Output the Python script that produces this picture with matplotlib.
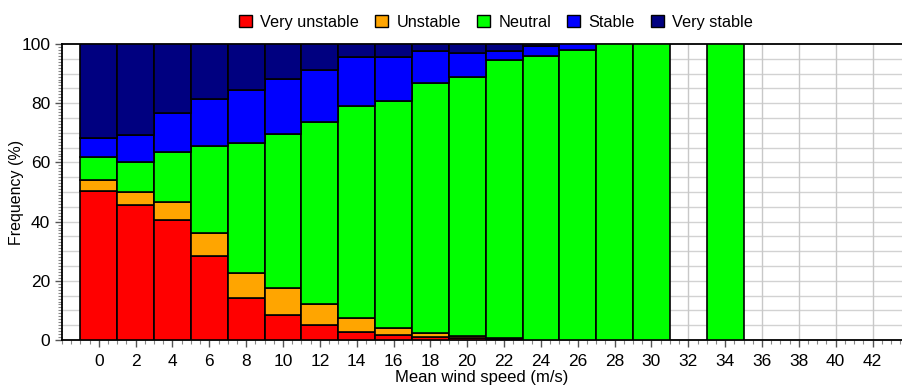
import numpy as np
import matplotlib
matplotlib.use("Agg")
import matplotlib.pyplot as plt
from matplotlib.ticker import MultipleLocator, FixedLocator

plt.rcParams["font.family"] = ["Liberation Sans", "DejaVu Sans"]

# Wind speed bin centres (m/s) and stability class frequencies (%)
speed_bins = [0, 2, 4, 6, 8, 10, 12, 14, 16, 18, 20, 22, 24, 26, 28, 30, 32, 34]
very_unstable = [50.4, 45.7, 40.4, 28.4, 14.3, 8.4, 5.1, 2.8, 1.7, 0.9, 0.8, 0.2, 0, 0, 0, 0, 0, 0]
unstable = [3.6, 4.2, 6.1, 7.9, 8.4, 9.1, 7.1, 4.5, 2.2, 1.6, 0.5, 0.6, 0, 0, 0, 0, 0, 0]
neutral = [7.8, 10.1, 16.9, 29.2, 43.9, 52.2, 61.3, 71.8, 76.8, 84.4, 87.7, 93.9, 96.1, 98.0, 100, 100, 0, 100]
stable = [6.4, 9.4, 13.3, 16.0, 17.9, 18.5, 17.7, 16.6, 15.0, 10.6, 8.0, 3.0, 3.3, 2.0, 0, 0, 0, 0]
very_stable = [31.8, 30.6, 23.3, 18.5, 15.5, 11.8, 8.8, 4.3, 4.3, 2.5, 3.0, 2.3, 0.6, 0, 0, 0, 0, 0]
x_ticks = list(range(0, 44, 2))

classes = ["Very unstable", "Unstable", "Neutral", "Stable", "Very stable"]
colors = ["#ff0000", "#ffa500", "#00ff00", "#0000ff", "#000080"]
series = [very_unstable, unstable, neutral, stable, very_stable]

fig = plt.figure(figsize=(9.02, 3.87), dpi=100)
ax = fig.add_axes([0.0687, 0.1214, 0.9313, 0.7649])

x = np.array(speed_bins, dtype=float)
bottom = np.zeros(len(x))
for name, color, vals in zip(classes, colors, series):
    vals = np.array(vals, dtype=float)
    keep = vals > 0
    ax.bar(x[keep], vals[keep], width=2, bottom=bottom[keep], color=color,
           edgecolor="black", linewidth=1.2, zorder=3)
    # legend proxy
    ax.bar([np.nan], [np.nan], color=color, edgecolor="black", linewidth=1.0, label=name)
    bottom += vals

ax.set_xlim(-2, 43.6)
ax.set_ylim(0, 100)
ax.xaxis.set_major_locator(FixedLocator(x_ticks))
ax.xaxis.set_minor_locator(MultipleLocator(0.5))
ax.yaxis.set_major_locator(MultipleLocator(20))
ax.yaxis.set_minor_locator(MultipleLocator(1))

# light grid: vertical at every label, horizontal every 5 %
ax.grid(axis="x", which="major", color="#c8c8c8", lw=1.0, zorder=0)
for yv in range(5, 100, 5):
    ax.axhline(yv, color="#d2d2d2", lw=1.0, zorder=0)

ax.tick_params(axis="both", which="major", labelsize=12.5, length=5, width=1, color="#555555")
ax.tick_params(axis="both", which="minor", length=3, width=0.8, color="#888888")
ax.tick_params(axis="x", pad=5)

for side in ("left", "bottom", "top"):
    ax.spines[side].set_linewidth(1.3)
    ax.spines[side].set_color("black")
ax.spines["right"].set_visible(False)

ax.set_xlabel("Mean wind speed (m/s)", fontsize=12, va="center")
ax.xaxis.set_label_coords(0.5, -0.128)
ax.set_ylabel("Frequency (%)", fontsize=11.5, va="center")
ax.yaxis.set_label_coords(-0.054, 0.5)

leg = fig.legend(loc="upper center", bbox_to_anchor=(0.55, 1.0), ncol=5, frameon=False,
                 fontsize=11.7, handlelength=0.8, handleheight=0.8, handletextpad=0.5,
                 columnspacing=1.0)

fig.savefig("out.png", dpi=100)
